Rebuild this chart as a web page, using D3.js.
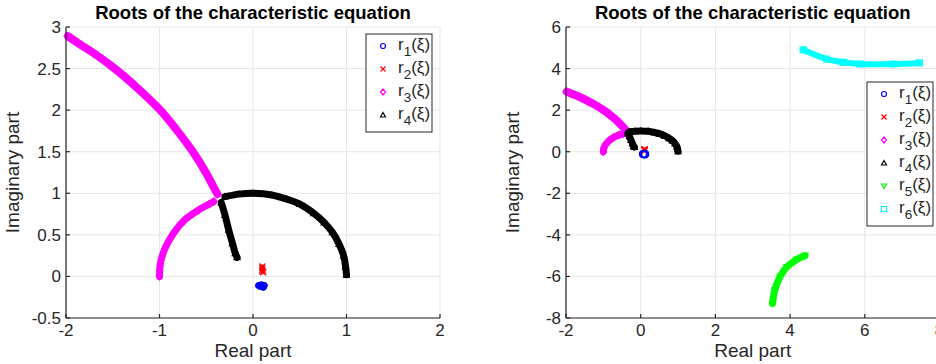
<!DOCTYPE html>
<html>
<head>
<meta charset="utf-8">
<script src="https://cdn.jsdelivr.net/npm/d3@7"></script>
<style>
  html, body { margin: 0; padding: 0; background: #fff; }
  svg { display: block; font-family: "Liberation Sans", Arial, sans-serif; }
</style>
</head>
<body>
<svg id="chart" width="936" height="364"></svg>
<script>
// Roots, [real, imaginary]
const r1 = [[0.06, -0.11], [0.08, -0.12], [0.10, -0.12], [0.12, -0.11], [0.09, -0.10], [0.11, -0.13]];
const r2 = [[0.10, 0.12], [0.10, 0.10], [0.10, 0.08], [0.10, 0.06], [0.11, 0.05]];
const r3Upper = [[-1.98, 2.89], [-1.85, 2.79], [-1.71, 2.69], [-1.49, 2.51], [-1.24, 2.27], [-1.0, 2.01],
  [-0.815, 1.76], [-0.637, 1.49], [-0.494, 1.23], [-0.405, 1.04], [-0.38, 0.99]];
const r3Lower = [[-1.0, 0.0], [-0.99, 0.16], [-0.94, 0.34], [-0.85, 0.52], [-0.73, 0.68], [-0.58, 0.80],
  [-0.47, 0.87], [-0.42, 0.90]];
const r4Arc = [[-0.30, 0.96], [-0.15, 0.99], [0.0, 1.0], [0.2, 0.98], [0.36, 0.93], [0.5, 0.87], [0.65, 0.76],
  [0.76, 0.65], [0.85, 0.53], [0.92, 0.39], [0.97, 0.25], [0.99, 0.12], [1.0, 0.02]];
const r4Branch = [[-0.34, 0.89], [-0.30, 0.74], [-0.26, 0.56], [-0.22, 0.40], [-0.19, 0.28], [-0.17, 0.23]];
const r5 = [[4.40, -5.0], [4.18, -5.18], [3.91, -5.55], [3.73, -6.01], [3.59, -6.66], [3.53, -7.3]];
const r6 = [[4.35, 4.9], [4.98, 4.45], [5.42, 4.3], [5.87, 4.22], [6.76, 4.22], [7.46, 4.27]];

// Axis ticks
const leftXTicks = [-2, -1, 0, 1, 2];
const leftYTicks = [-0.5, 0, 0.5, 1, 1.5, 2, 2.5, 3];
const rightXTicks = [-2, 0, 2, 4, 6, 8];
const rightYTicks = [-8, -6, -4, -2, 0, 2, 4, 6];

const titleText = 'Roots of the characteristic equation';

// Marker styles, as in the MATLAB plot
const series = {
  r1: {color: '#0000ff', symbol: 'circle', label: '1'},
  r2: {color: '#ff0000', symbol: 'cross', label: '2'},
  r3: {color: '#ff00ff', symbol: 'diamond', label: '3'},
  r4: {color: '#000000', symbol: 'up', label: '4'},
  r5: {color: '#00ff00', symbol: 'down', label: '5'},
  r6: {color: '#00ffff', symbol: 'square', label: '6'}
};

const svg = d3.select('#chart');
const ink = '#262626';

function markerPath(kind, s) {
  const h = s / 2;
  switch (kind) {
    case 'circle': return `M${h},0A${h},${h} 0 1,1 ${-h},0A${h},${h} 0 1,1 ${h},0Z`;
    case 'cross': return `M${-h},${-h}L${h},${h}M${-h},${h}L${h},${-h}`;
    case 'diamond': return `M0,${-h * 1.2}L${h},0L0,${h * 1.2}L${-h},0Z`;
    case 'up': return `M0,${-h}L${h},${h * 0.8}L${-h},${h * 0.8}Z`;
    case 'down': return `M0,${h}L${h},${-h * 0.8}L${-h},${-h * 0.8}Z`;
    default: return `M${-h},${-h}H${h}V${h}H${-h}Z`;
  }
}

function drawPanel(opt) {
  const x = d3.scaleLinear().domain(opt.xDomain).range([opt.left, opt.right]);
  const y = d3.scaleLinear().domain(opt.yDomain).range([opt.bottom, opt.top]);
  const g = svg.append('g');

  // Grid
  g.selectAll('.vgrid').data(opt.xTicks).enter().append('line').
    attr('x1', (d) => x(d)).attr('x2', (d) => x(d)).
    attr('y1', opt.top).attr('y2', opt.bottom).
    attr('stroke', '#e6e6e6').attr('stroke-width', 1);
  g.selectAll('.hgrid').data(opt.yTicks).enter().append('line').
    attr('x1', opt.left).attr('x2', opt.right).
    attr('y1', (d) => y(d)).attr('y2', (d) => y(d)).
    attr('stroke', '#e6e6e6').attr('stroke-width', 1);

  // Root traces: a thick band of overlapping markers
  const line = d3.line().curve(d3.curveCatmullRom).x((d) => x(d[0])).y((d) => y(d[1]));
  opt.traces.forEach((t) => {
    const s = series[t.key];
    if (t.band) {
      g.append('path').datum(t.data).
        attr('d', line).
        attr('fill', 'none').
        attr('stroke', s.color).
        attr('stroke-width', t.band).
        attr('stroke-linecap', 'round').
        attr('stroke-linejoin', 'round');
    }
    g.selectAll(null).data(t.data).enter().append('path').
      attr('transform', (d) => `translate(${x(d[0])},${y(d[1])})`).
      attr('d', markerPath(s.symbol, t.size || 6)).
      attr('fill', 'none').
      attr('stroke', s.color).
      attr('stroke-width', 1.2);
  });

  // Axes (box off, ticks inside)
  const axis = g.append('g').attr('stroke', ink).attr('stroke-width', 1.2);
  axis.append('line').attr('x1', opt.left).attr('x2', opt.right).attr('y1', opt.bottom).attr('y2', opt.bottom);
  axis.append('line').attr('x1', opt.left).attr('x2', opt.left).attr('y1', opt.top).attr('y2', opt.bottom);
  axis.selectAll('.xt').data(opt.xTicks).enter().append('line').
    attr('x1', (d) => x(d)).attr('x2', (d) => x(d)).
    attr('y1', opt.bottom).attr('y2', opt.bottom - 4);
  axis.selectAll('.yt').data(opt.yTicks).enter().append('line').
    attr('x1', opt.left).attr('x2', opt.left + 4).
    attr('y1', (d) => y(d)).attr('y2', (d) => y(d));

  g.selectAll('.xl').data(opt.xTicks).enter().append('text').
    attr('x', (d) => x(d)).attr('y', opt.bottom + 18).
    attr('text-anchor', 'middle').attr('font-size', 17).attr('fill', ink).
    text((d) => d);
  g.selectAll('.yl').data(opt.yTicks).enter().append('text').
    attr('x', opt.left - 5).attr('y', (d) => y(d) + 6).
    attr('text-anchor', 'end').attr('font-size', 17).attr('fill', ink).
    text((d) => d);

  g.append('text').
    attr('x', (opt.left + opt.right) / 2).attr('y', 357).
    attr('text-anchor', 'middle').attr('font-size', 19).attr('fill', ink).
    text('Real part');
  g.append('text').
    attr('transform', `translate(${opt.left - 47},${(opt.top + opt.bottom) / 2}) rotate(-90)`).
    attr('text-anchor', 'middle').attr('font-size', 19).attr('fill', ink).
    text('Imaginary part');
  g.append('text').
    attr('x', (opt.left + opt.right) / 2).attr('y', 19).
    attr('text-anchor', 'middle').attr('font-size', 18.5).attr('font-weight', 'bold').attr('fill', '#000').
    text(titleText);

  // Legend
  const lg = g.append('g').attr('transform', `translate(${opt.legend.x},${opt.legend.y})`);
  const rowH = 23;
  lg.append('rect').
    attr('width', opt.legend.w).attr('height', opt.legend.keys.length * rowH + 6).
    attr('fill', '#fff').attr('stroke', ink).attr('stroke-width', 1);
  opt.legend.keys.forEach((k, i) => {
    const s = series[k];
    const cy = 12 + i * rowH;
    lg.append('path').
      attr('transform', `translate(17,${cy})`).
      attr('d', markerPath(s.symbol, 5)).
      attr('fill', 'none').attr('stroke', s.color).attr('stroke-width', 1.2);
    const t = lg.append('text').attr('x', 32).attr('y', cy + 4).
      attr('font-size', 17).attr('fill', ink);
    t.append('tspan').text('r');
    t.append('tspan').attr('font-size', 13.5).attr('dy', 6).text(s.label);
    t.append('tspan').attr('dy', -6).text('(ξ)');
  });
}

drawPanel({
  xDomain: [-2, 2], yDomain: [-0.5, 3],
  left: 66, right: 440, top: 27, bottom: 318,
  xTicks: leftXTicks, yTicks: leftYTicks,
  traces: [
    {key: 'r3', data: r3Upper, band: 8},
    {key: 'r3', data: r3Lower, band: 7},
    {key: 'r4', data: r4Arc, band: 7},
    {key: 'r4', data: r4Branch, band: 7},
    {key: 'r2', data: r2, band: 4},
    {key: 'r1', data: r1, band: 6}
  ],
  legend: {x: 366, y: 34, w: 66, keys: ['r1', 'r2', 'r3', 'r4']}
});

drawPanel({
  xDomain: [-2, 8], yDomain: [-8, 6],
  left: 566, right: 939.5, top: 27, bottom: 318,
  xTicks: rightXTicks, yTicks: rightYTicks,
  traces: [
    {key: 'r3', data: r3Upper, band: 8},
    {key: 'r3', data: r3Lower, band: 7},
    {key: 'r4', data: r4Arc, band: 7},
    {key: 'r4', data: r4Branch, band: 7},
    {key: 'r5', data: r5, band: 7},
    {key: 'r6', data: r6, band: 6},
    {key: 'r2', data: r2, band: 4},
    {key: 'r1', data: r1, band: 0, size: 7}
  ],
  legend: {x: 867, y: 82, w: 66, keys: ['r1', 'r2', 'r3', 'r4', 'r5', 'r6']}
});
</script>
</body>
</html>
